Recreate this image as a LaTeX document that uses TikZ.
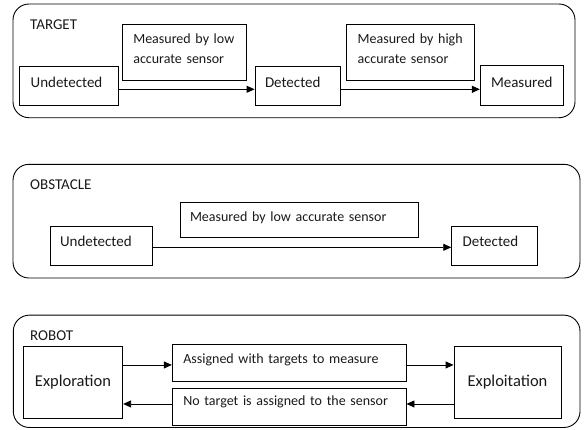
\documentclass[tikz,border=0pt]{standalone}
\usepackage{fontspec}
\setmainfont{Carlito}
\usetikzlibrary{arrows.meta}
\tikzset{
  frame/.style={draw=black, line width=0.9pt, rounded corners=16pt, inner sep=0pt},
  box/.style={draw=black, line width=0.9pt, inner ysep=0pt, align=left, text=black!90},
  cbox/.style={draw=black, line width=0.9pt, inner sep=0pt, align=center, text=black!90},
  title/.style={anchor=base west, inner sep=0pt, font=\fontsize{15}{18}\selectfont, text=black!90},
  statefont/.style={font=\fontsize{15}{18}\selectfont},
  labfont/.style={font=\fontsize{14}{20}\selectfont},
  bigfont/.style={font=\fontsize{16.5}{20}\selectfont},
  arr/.style={line width=0.9pt, -{Triangle[length=8pt,width=7pt]}}
}
\begin{document}
\begin{tikzpicture}[x=1pt, y=-1pt]
\useasboundingbox (0,0) rectangle (585,429);

% ---------------- TARGET ----------------
\node[frame, minimum width=562pt, minimum height=113.7pt] (tframe) at (294,60.85) {};
\node[title] (ttitle) at (30,29.3) {TARGET};
\node[box, statefont, minimum width=99pt, minimum height=39pt, inner xsep=11.7pt, text width=75.6pt,
      text height=9pt, text depth=5.4pt] (tund) at (68.5,85.5) {Undetected};
\node[box, labfont, minimum width=123.7pt, minimum height=56pt, inner xsep=11pt, text width=101.7pt,
      text height=10pt, text depth=27.4pt] (tlab1) at (184.15,52) {Measured by low\\accurate sensor};
\node[box, statefont, minimum width=85pt, minimum height=39pt, inner xsep=10pt, text width=65pt,
      text height=9pt, text depth=5.4pt] (tdet) at (297.5,85.5) {Detected};
\node[box, labfont, minimum width=127.6pt, minimum height=56pt, inner xsep=11pt, text width=105.6pt,
      text height=10pt, text depth=27.4pt] (tlab2) at (410.5,52) {Measured by high\\accurate sensor};
\node[cbox, statefont, minimum width=83pt, minimum height=39.6pt,
      text height=9pt, text depth=5.4pt] (tmea) at (521.8,85.5) {Measured};
\draw[arr] ([yshift=-3.8pt]tund.east) -- ([yshift=-3.8pt]tdet.west);
\draw[arr] ([yshift=-3.8pt]tdet.east) -- ([yshift=-3.8pt]tmea.west);

% ---------------- OBSTACLE ----------------
\node[frame, minimum width=567pt, minimum height=113.7pt] (oframe) at (296.5,221.15) {};
\node[title] (otitle) at (30,189) {OBSTACLE};
\node[box, statefont, minimum width=102.7pt, minimum height=39pt, inner xsep=10pt, text width=82.7pt,
      text height=9pt, text depth=8pt] (oundet) at (101.35,245.5) {Undetected};
\node[box, labfont, minimum width=238.3pt, minimum height=35.4pt, inner xsep=10pt, text width=218.3pt,
      text height=9pt, text depth=5.6pt] (olab) at (299.15,220) {Measured by low accurate sensor};
\node[box, statefont, minimum width=86pt, minimum height=39pt, inner xsep=11pt, text width=64pt,
      text height=9pt, text depth=8pt] (odet) at (494.7,245.5) {Detected};
\draw[arr] ([yshift=-1.8pt]oundet.east) -- ([yshift=-1.8pt]odet.west);

% ---------------- ROBOT ----------------
\node[frame, minimum width=566.7pt, minimum height=112.3pt] (rframe) at (296.65,371.3) {};
\node[title] (rtitle) at (30,340.7) {ROBOT};
\node[cbox, bigfont, minimum width=99.4pt, minimum height=71.6pt] (expl) at (73,382.5) {Exploration};
\node[box, labfont, minimum width=233.7pt, minimum height=36.7pt, inner xsep=11pt, text width=211.7pt,
      text height=9pt, text depth=7.8pt] (atop) at (289.15,362.65) {Assigned with targets to measure};
\node[box, labfont, minimum width=233.7pt, minimum height=36.7pt, inner xsep=11pt, text width=211.7pt,
      text height=9pt, text depth=10.4pt] (abot) at (289.15,406.65) {No target is assigned to the sensor};
\node[cbox, bigfont, minimum width=107pt, minimum height=71.6pt] (expt) at (507.5,382.5) {Exploitation};
\coordinate (a1) at ([yshift=-2.3pt]atop.west);
\coordinate (a2) at ([yshift=-2.3pt]atop.east);
\coordinate (b1) at ([yshift=2.7pt]abot.west);
\coordinate (b2) at ([yshift=2.7pt]abot.east);
\draw[arr] (expl.east |- a1) -- (a1);
\draw[arr] (a2) -- (expt.west |- a2);
\draw[arr] (expt.west |- b2) -- (b2);
\draw[arr] (b1) -- (expl.east |- b1);
\end{tikzpicture}
\end{document}
